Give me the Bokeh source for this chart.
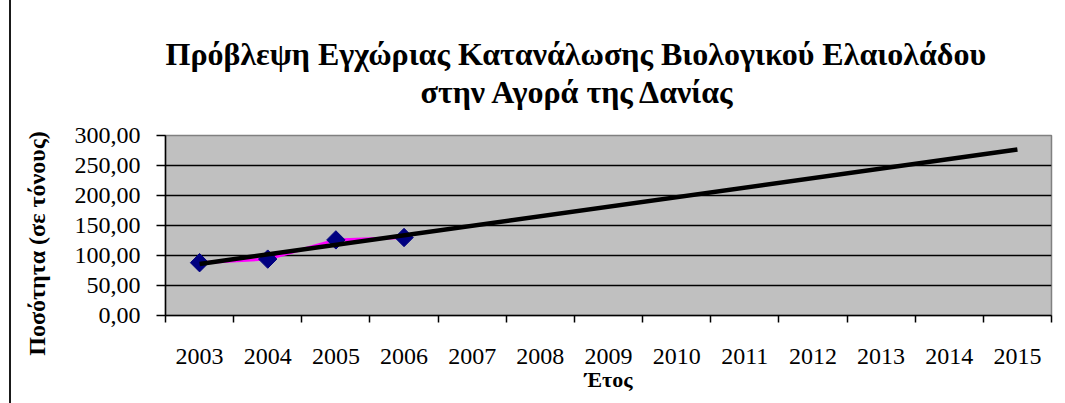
import numpy as np
from bokeh.plotting import figure
from bokeh.models import Range1d, FixedTicker, Title, ColumnDataSource
from bokeh.embed import file_html
from bokeh.resources import INLINE

# ---- data ----
years = ["2003", "2004", "2005", "2006", "2007", "2008", "2009",
         "2010", "2011", "2012", "2013", "2014", "2015"]
obs_years = ["2003", "2004", "2005", "2006"]
obs_values = [88.0, 94.0, 126.0, 130.0]
trend_years = ["2003", "2015"]
trend_values = [86.0, 276.5]
y_ticks = [0, 50, 100, 150, 200, 250, 300]
y_tick_labels = ["0,00", "50,00", "100,00", "150,00", "200,00", "250,00", "300,00"]

title_line1 = "Πρόβλεψη Εγχώριας Κατανάλωσης Βιολογικού Ελαιολάδου"
title_line2 = "στην Αγορά της Δανίας"
x_title = "Έτος"
y_title = "Ποσότητα (σε τόνους)"

SERIF = "Liberation Serif"

pos = {y: i + 0.5 for i, y in enumerate(years)}
obs_src = ColumnDataSource(dict(x=[pos[y] for y in obs_years], y=obs_values))
trend_src = ColumnDataSource(dict(x=[pos[y] for y in trend_years], y=trend_values))

p = figure(width=1046, height=403, output_backend="svg", toolbar_location=None,
           x_range=Range1d(0, len(years)), y_range=Range1d(y_ticks[0], y_ticks[-1]),
           min_border_left=154, min_border_right=6, min_border_top=135,
           min_border_bottom=88)
p.styles = {"border-left": "2px solid #1a1a1a", "margin-left": "9px"}

p.background_fill_color = "#C0C0C0"
p.border_fill_color = "white"
p.outline_line_color = "#808080"
p.outline_line_width = 1.5

# titles: spacer (nearest the frame), line 2, then line 1 (outermost)
spacer = Title(text=" ", text_font_size="1px", standoff=23)
p.add_layout(spacer, "above")
t2 = Title(text=title_line2, text_font=SERIF, text_font_style="bold",
           text_font_size="32px", text_color="black", align="left", offset=255,
           standoff=0)
p.add_layout(t2, "above")
p.title.text = title_line1
p.title.text_font = SERIF
p.title.text_font_style = "bold"
p.title.text_font_size = "32px"
p.title.text_color = "black"
p.title.align = "left"
p.title.offset = 0
p.title.standoff = 0

# x axis
xa = p.xaxis[0]
xa.ticker = FixedTicker(ticks=[pos[y] for y in years],
                        minor_ticks=list(range(len(years) + 1)))
xa.major_label_overrides = {pos[y]: y for y in years}
xa.major_tick_out = 0
xa.major_tick_in = 0
xa.minor_tick_out = 7
xa.minor_tick_in = 0
xa.minor_tick_line_color = "black"
xa.minor_tick_line_width = 1.5
xa.axis_line_color = "black"
xa.axis_line_width = 1.5
xa.major_label_text_font = SERIF
xa.major_label_text_font_size = "24px"
xa.major_label_text_color = "black"
xa.major_label_standoff = 26
xa.axis_label = x_title
xa.axis_label_text_font = SERIF
xa.axis_label_text_font_style = "bold"
xa.axis_label_text_font_size = "22px"
xa.axis_label_text_color = "black"
xa.axis_label_standoff = 0

# y axis
ya = p.yaxis[0]
ya.ticker = FixedTicker(ticks=y_ticks, minor_ticks=[])
ya.major_label_overrides = dict(zip(y_ticks, y_tick_labels))
ya.major_tick_out = 9
ya.major_tick_in = 0
ya.major_tick_line_color = "black"
ya.major_tick_line_width = 1.5
ya.axis_line_color = "black"
ya.axis_line_width = 1.5
ya.major_label_text_font = SERIF
ya.major_label_text_font_size = "24px"
ya.major_label_text_color = "black"
ya.major_label_standoff = 16
ya.axis_label = y_title + "\u00a0" * 6
ya.axis_label_text_font = SERIF
ya.axis_label_text_font_style = "bold"
ya.axis_label_text_font_size = "24px"
ya.axis_label_text_color = "black"
ya.axis_label_standoff = 22

# grid
p.xgrid.visible = False
p.ygrid.ticker = FixedTicker(ticks=y_ticks[1:-1])
p.ygrid.grid_line_color = "black"
p.ygrid.grid_line_width = 1.5

# series
p.line("x", "y", source=obs_src, line_color="#FF00FF", line_width=3)
p.scatter("x", "y", source=obs_src, marker="square", angle=np.pi / 4, size=13,
          fill_color="#000080", line_color="#000080")
p.line("x", "y", source=trend_src, line_color="black", line_width=4.5)

open("out.html", "w").write(file_html(p, INLINE))
